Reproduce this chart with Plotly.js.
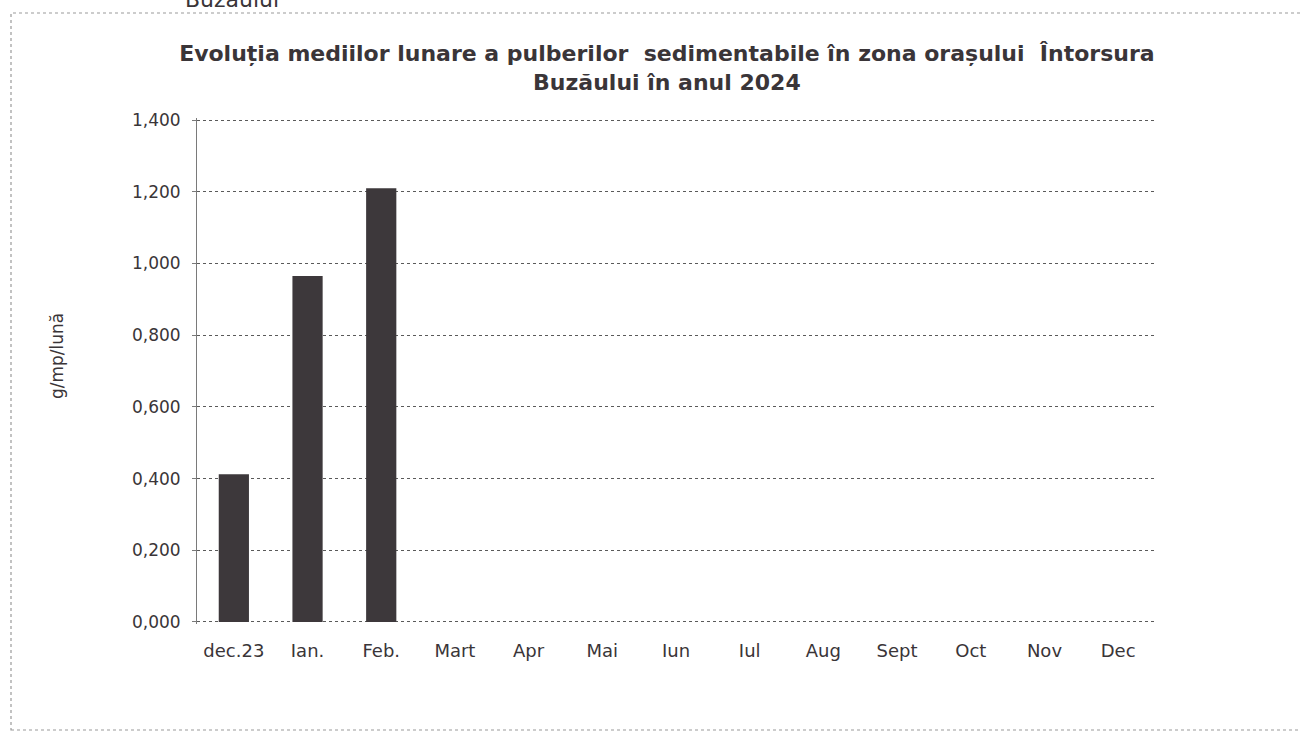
<!DOCTYPE html>
<html>
<head>
<meta charset="utf-8">
<script src="https://cdn.plot.ly/plotly-3.0.1.min.js"></script>
<style>
html,body{margin:0;padding:0;background:#fff;}
#chart{width:1300px;height:734px;}
</style>
</head>
<body>
<div id="chart"></div>
<script>
const categories = ['dec.23','Ian.','Feb.','Mart','Apr','Mai','Iun','Iul','Aug','Sept','Oct','Nov','Dec'];
const values = [0.412, 0.965, 1.210, null, null, null, null, null, null, null, null, null, null];
const yTickVals = [0, 0.2, 0.4, 0.6, 0.8, 1.0, 1.2, 1.4];
const yTickText = ['0,000','0,200','0,400','0,600','0,800','1,000','1,200','1,400'];
const titleText = 'Evoluția mediilor lunare a pulberilor  sedimentabile în zona orașului  Întorsura<br>Buzăului în anul 2024';
const yTitle = 'g/mp/lună';
const topFragment = 'Buzăului';

const txtColor = '#3a3538';
const font = 'DejaVu Sans, Verdana, sans-serif';

const data = [{
  type: 'bar',
  x: categories,
  y: values,
  marker: {color: '#3d383b', line: {width: 0}},
  hoverinfo: 'x+y'
}];

const layout = {
  width: 1300, height: 734,
  margin: {l: 197, r: 145, t: 118, b: 110},
  paper_bgcolor: '#ffffff',
  plot_bgcolor: '#ffffff',
  showlegend: false,
  bargap: 0.59,
  font: {family: font, color: txtColor},
  title: {
    text: titleText,
    font: {family: 'DejaVu Sans, sans-serif', size: 22, color: txtColor, weight: 'bold'},
    x: 0.513, xanchor: 'center', xref: 'container',
    y: 1 - 61/734, yanchor: 'middle', yref: 'container'
  },
  xaxis: {
    type: 'category',
    range: [-0.5, 12.5],
    showgrid: false, zeroline: false, showline: false,
    ticks: '',
    tickfont: {family: font, size: 18, color: txtColor},
    ticklabelstandoff: 14,
    fixedrange: true
  },
  yaxis: {
    range: [-0.0056, 1.4056],
    tickvals: yTickVals,
    ticktext: yTickText,
    tickfont: {family: font, size: 17, color: txtColor},
    showgrid: true,
    gridcolor: '#5a5a5a',
    griddash: 'dot',
    gridwidth: 1,
    zeroline: false,
    showline: true,
    linecolor: '#7a7a7a',
    linewidth: 1,
    ticks: 'outside',
    ticklen: 4,
    tickcolor: '#7a7a7a',
    ticklabelstandoff: 8,
    fixedrange: true
  },
  shapes: [{
    type: 'rect', xref: 'paper', yref: 'paper',
    x0: (11-197)/958, x1: (1320-197)/958,
    y0: (624-730)/506, y1: (624-13)/506,
    line: {color: '#9a9a9a', width: 1.2, dash: 'dot'},
    fillcolor: 'rgba(0,0,0,0)',
    layer: 'below'
  }],
  annotations: [{
    text: yTitle,
    xref: 'paper', yref: 'paper',
    x: (57-197)/958, y: (624-356)/506,
    xanchor: 'center', yanchor: 'middle',
    textangle: -90,
    showarrow: false,
    font: {family: font, size: 17, color: txtColor}
  }, {
    text: topFragment,
    xref: 'paper', yref: 'paper',
    x: (232-197)/958, y: (624-14)/506,
    xanchor: 'center', yanchor: 'bottom',
    showarrow: false,
    font: {family: 'DejaVu Sans, sans-serif', size: 22, color: txtColor}
  }]
};

Plotly.newPlot('chart', data, layout, {displayModeBar: false, staticPlot: true});
</script>
</body>
</html>
